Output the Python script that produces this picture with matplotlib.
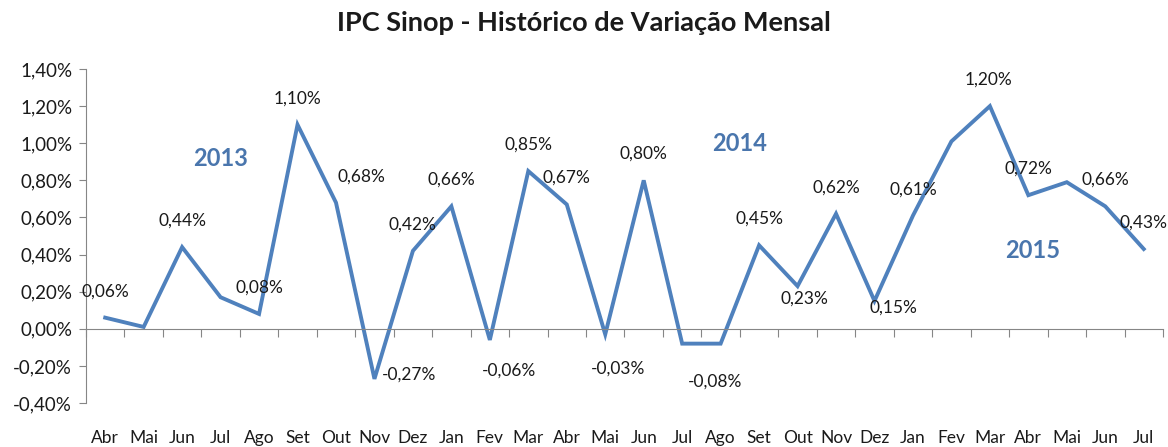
import numpy as np
import matplotlib.pyplot as plt
from matplotlib.ticker import FuncFormatter
import matplotlib.transforms as mtransforms

plt.rcParams['font.family'] = ['Lato', 'DejaVu Sans']

months = ["Abr", "Mai", "Jun", "Jul", "Ago", "Set", "Out", "Nov", "Dez",
          "Jan", "Fev", "Mar", "Abr", "Mai", "Jun", "Jul", "Ago", "Set", "Out", "Nov", "Dez",
          "Jan", "Fev", "Mar", "Abr", "Mai", "Jun", "Jul"]
values = [0.06, 0.01, 0.44, 0.17, 0.08, 1.10, 0.68, -0.27, 0.42,
          0.66, -0.06, 0.85, 0.67, -0.03, 0.80, -0.08, -0.08, 0.45, 0.23, 0.62, 0.15,
          0.61, 1.01, 1.20, 0.72, 0.79, 0.66, 0.43]

# which points get a value label, and where (dx, dy in points)
label_pos = {
    0: (0, 19), 2: (0, 19), 4: (0, 19), 5: (0, 19), 6: (18, 19),
    7: (25, 3), 8: (0, 19), 9: (0, 19), 10: (14, -22), 11: (0, 19),
    12: (0, 19), 13: (9, -25), 14: (0, 19), 16: (-4, -27), 17: (0, 19),
    18: (5, -9), 19: (0, 19), 20: (14, -5), 21: (0, 19), 23: (-1, 19),
    24: (0, 19), 26: (0, 19), 27: (0, 19),
}

years = ["2013", "2014", "2015"]
year_x = [3.0, 16.5, 24.1]
year_y = [0.92, 1.00, 0.42]

line_color = "#4f81bd"
year_color = "#4a76ad"
axis_color = "#868686"

fig = plt.figure(figsize=(11.68, 4.47), dpi=100)
ax = fig.add_axes([0.0736, 0.0984, 0.9221, 0.7472])

x = np.arange(len(months))
ax.plot(x, values, color=line_color, linewidth=2.8, solid_joinstyle="miter")

for i, (dx, dy) in label_pos.items():
    txt = f"{values[i]:.2f}%".replace(".", ",")
    ax.annotate(txt, (x[i], values[i]), xytext=(dx, dy), textcoords="offset points",
                ha="center", va="center", fontsize=12.5, color="#1a1a1a")

for yr, xx, yy in zip(years, year_x, year_y):
    ax.text(xx, yy, yr, color=year_color, fontsize=17, fontweight="bold",
            ha="center", va="center")

ax.set_xlim(-0.5, len(months) - 0.5)
ax.set_ylim(-0.40, 1.40)
ax.set_yticks(np.arange(-0.40, 1.41, 0.20))
ax.yaxis.set_major_formatter(FuncFormatter(lambda v, p: f"{v:.2f}%".replace(".", ",").replace("-0,00", "0,00")))
ax.tick_params(axis="y", labelsize=13.5, length=5, color=axis_color, labelcolor="#1a1a1a", pad=5)

ax.spines["top"].set_visible(False)
ax.spines["right"].set_visible(False)
ax.spines["left"].set_color(axis_color)
ax.spines["bottom"].set_color(axis_color)
ax.spines["bottom"].set_position(("data", 0))

ax.set_xticks(np.arange(-0.5, len(months), 1.0))
ax.set_xticklabels([])
ax.tick_params(axis="x", length=6, color=axis_color, direction="out")

trans = mtransforms.blended_transform_factory(ax.transData, ax.transAxes)
for i, m in enumerate(months):
    ax.text(i, -0.105, m, transform=trans, ha="center", va="center",
            fontsize=12.5, color="#1a1a1a")

fig.suptitle("IPC Sinop - Histórico de Variação Mensal", fontsize=19.5,
             fontweight="bold", x=0.5, y=0.975, color="#1a1a1a")

fig.savefig("out.png", dpi=100)
